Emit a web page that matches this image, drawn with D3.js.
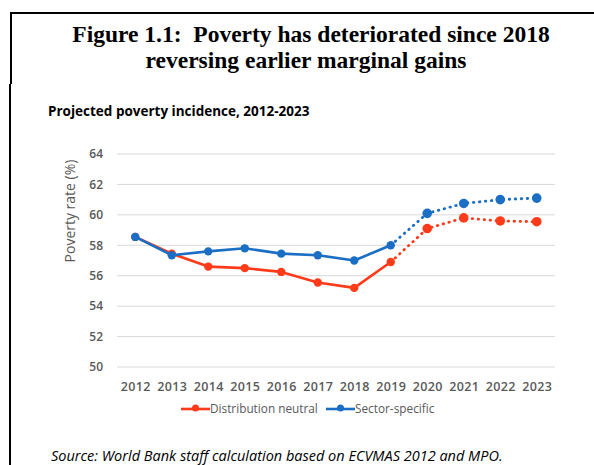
<!DOCTYPE html>
<html><head><meta charset="utf-8">
<script src="https://cdn.jsdelivr.net/npm/d3@7"></script>
<style>body{margin:0;background:#fff}svg{display:block}</style>
</head><body>
<svg id="c" width="594" height="465"></svg>
<script>
const years = ["2012","2013","2014","2015","2016","2017","2018","2019","2020","2021","2022","2023"];
const distNeutral = [58.55,57.45,56.6,56.5,56.25,55.55,55.2,56.9,59.1,59.8,59.6,59.55];
const sectorSpecific = [58.55,57.35,57.6,57.8,57.45,57.35,57.0,58.0,60.1,60.75,61.0,61.1];
const yTicks = [50,52,54,56,58,60,62,64];
const projStart = "2019";
const seriesNames = ["Distribution neutral","Sector-specific"];
const colors = ["#ff3b1a","#1a6ec4"];

const svg = d3.select("#c");
// frame
svg.append("line").attr("x1",10).attr("x2",594).attr("y1",13).attr("y2",13).attr("stroke","#000").attr("stroke-width",2);
svg.append("line").attr("x1",11).attr("x2",11).attr("y1",12).attr("y2",84).attr("stroke","#000").attr("stroke-width",2);
svg.append("line").attr("x1",10).attr("x2",10).attr("y1",84).attr("y2",465).attr("stroke","#000").attr("stroke-width",2);

svg.append("text").attr("x",311).attr("y",42).attr("text-anchor","middle")
  .style("font-family","'Liberation Serif',serif").style("font-weight","bold").style("font-size","23.5px")
  .style("white-space","pre")
  .text("Figure 1.1:  Poverty has deteriorated since 2018");
svg.append("text").attr("x",306).attr("y",68).attr("text-anchor","middle")
  .style("font-family","'Liberation Serif',serif").style("font-weight","bold").style("font-size","23.5px")
  .text("reversing earlier marginal gains");
svg.append("text").attr("x",48).attr("y",116)
  .style("font-family","'Open Sans',sans-serif").style("font-weight","bold").style("font-size","13.5px")
  .text("Projected poverty incidence, 2012-2023");

const x = d3.scalePoint().domain(years).range([117,555]).padding(0.5);
const y = d3.scaleLinear().domain([50,64]).range([367,154]);

const g = svg.append("g");
g.selectAll("line.grid").data(yTicks).join("line").attr("class","grid")
  .attr("x1",117).attr("x2",555).attr("y1",d=>y(d)).attr("y2",d=>y(d))
  .attr("stroke","#d9d9d9").attr("stroke-width",1);

const yAxis = g.append("g").attr("transform","translate(107,0)")
  .call(d3.axisLeft(y).tickValues(yTicks).tickSize(0).tickPadding(4));
yAxis.select(".domain").remove();
yAxis.selectAll("text").style("font-family","'Open Sans',sans-serif").style("font-size","12px").style("font-weight","600").attr("fill","#595959");

const xAxis = g.append("g").attr("transform","translate(0,378)")
  .call(d3.axisBottom(x).tickSize(0).tickPadding(4));
xAxis.select(".domain").remove();
xAxis.selectAll("text").style("font-family","'Open Sans',sans-serif").style("font-size","12.5px").style("font-weight","600").style("letter-spacing","0.3px").attr("fill","#595959");

svg.append("text").attr("transform","translate(75,211) rotate(-90)").attr("text-anchor","middle")
  .style("font-family","'Open Sans',sans-serif").style("font-size","14px").attr("fill","#595959")
  .text("Poverty rate (%)");

const series = [distNeutral, sectorSpecific];
const line = d3.line().x(d=>x(d.year)).y(d=>y(d.v));
const pi = years.indexOf(projStart);
series.forEach((vals,i)=>{
  const pts = years.map((yr,j)=>({year:yr,v:vals[j]}));
  g.append("path").datum(pts.slice(0,pi+1)).attr("d",line).attr("fill","none")
    .attr("stroke",colors[i]).attr("stroke-width",2.6).attr("stroke-linejoin","round");
  g.append("path").datum(pts.slice(pi)).attr("d",line).attr("fill","none")
    .attr("stroke",colors[i]).attr("stroke-width",2.8).attr("stroke-dasharray","0.5 5.5").attr("stroke-linecap","round");
  g.selectAll(null).data(pts).join("circle").attr("cx",d=>x(d.year)).attr("cy",d=>y(d.v))
    .attr("r",(d,j)=>j>pi?4.8:4.2).attr("fill",colors[i]);
});

// legend
const leg = [{x0:181,x1:210,tx:210},{x0:326,x1:355,tx:355}];
leg.forEach((l,i)=>{
  svg.append("line").attr("x1",l.x0).attr("x2",l.x1).attr("y1",409).attr("y2",409).attr("stroke",colors[i]).attr("stroke-width",2.6);
  svg.append("circle").attr("cx",(l.x0+l.x1)/2).attr("cy",408).attr("r",3.5).attr("fill",colors[i]);
  svg.append("text").attr("x",l.tx).attr("y",413).style("font-family","'Open Sans',sans-serif").style("font-size","11.8px").attr("fill","#595959").text(seriesNames[i]);
});

svg.append("text").attr("x",51).attr("y",461)
  .style("font-family","'Open Sans',sans-serif").style("font-style","italic").style("font-size","14.5px").attr("fill","#000")
  .text("Source: World Bank staff calculation based on ECVMAS 2012 and MPO.");
</script>
</body></html>
